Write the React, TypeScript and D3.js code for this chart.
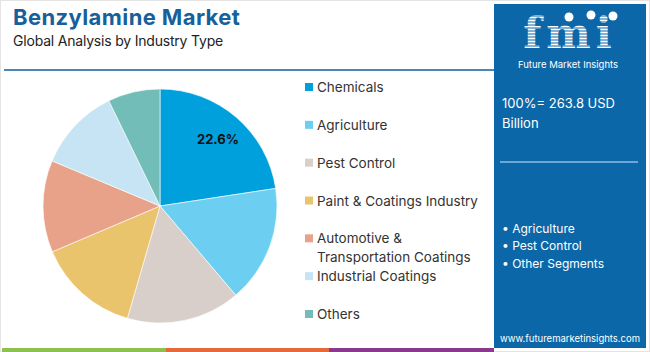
import React from 'react';
import * as d3 from 'd3';

const categories = [
  'Chemicals',
  'Agriculture',
  'Pest Control',
  'Paint & Coatings Industry',
  'Automotive & Transportation Coatings',
  'Industrial Coatings',
  'Others',
];
const shares = [22.6, 16.2, 15.7, 14.1, 12.7, 11.5, 7.2];
const colors = ['#00a0dc', '#6ccff2', '#d8ceca', '#e9c46c', '#e9a28a', '#c6e4f4', '#72bdb8'];
const legendLines = [
  ['Chemicals'],
  ['Agriculture'],
  ['Pest Control'],
  ['Paint & Coatings Industry'],
  ['Automotive &', 'Transportation Coatings'],
  ['Industrial Coatings'],
  ['Others'],
];
const highlights = ['Agriculture', 'Pest Control', 'Other Segments'];
const totalLabel = ['100%= 263.8 USD', 'Billion'];

const font = 'Inter, "Open Sans", sans-serif';

const App = () => {
  const cx = 160;
  const cy = 206;
  const r = 117;

  const pie = d3
    .pie<number>()
    .sort(null)
    .value((d) => d);
  const arcs = pie(shares);
  const arc = d3.arc<d3.PieArcDatum<number>>().innerRadius(0).outerRadius(r);
  const labelArc = d3.arc<d3.PieArcDatum<number>>().innerRadius(r * 0.76).outerRadius(r * 0.76);

  // legend rows
  const rowY = d3.scaleLinear().domain([0, 6]).range([87, 314]);

  const stripeYs = d3.range(16, 52, 3);

  return (
    <svg
      width={650}
      height={352}
      style={{ position: 'fixed', left: 0, top: 0 }}
      fontFamily={font}
    >
      <rect x={0} y={0} width={650} height={352} fill="#fff" />
      <rect x={0.5} y={0.5} width={649} height={351} fill="none" stroke="#e4e4e4" />

      {/* title */}
      <text x={13} y={25} fontSize={22} fontWeight={700} fill="#17609a" letterSpacing={0.4}>
        Benzylamine Market
      </text>
      <text x={13} y={46} fontSize={14} fill="#222" letterSpacing={-0.2}>
        Global Analysis by Industry Type
      </text>
      <line x1={4} x2={494} y1={70} y2={70} stroke="#4a86b8" strokeWidth={2} />

      {/* pie */}
      <g transform={`translate(${cx},${cy})`}>
        {arcs.map((a, i) => (
          <path key={categories[i]} d={arc(a) || ''} fill={colors[i]} stroke="#fff" strokeWidth={0.6} />
        ))}
        <text
          x={labelArc.centroid(arcs[0])[0]}
          y={labelArc.centroid(arcs[0])[1]}
          textAnchor="middle"
          dominantBaseline="central"
          fontSize={13}
          fontWeight={700}
          fill="#111"
        >
          {shares[0]}%
        </text>
      </g>

      {/* legend */}
      {legendLines.map((lines, i) => (
        <g key={categories[i]}>
          <rect x={305} y={rowY(i) - 4} width={8} height={8} fill={colors[i]} />
          {lines.map((t, j) => (
            <text key={t} x={317} y={rowY(i) + j * 19} dominantBaseline="central" fontSize={13.5} fill="#333">
              {t}
            </text>
          ))}
        </g>
      ))}

      {/* right panel */}
      <rect x={494} y={4} width={152} height={344} fill="#0c67a8" />
      <g>
        <text x={570} y={48} textAnchor="middle" fontSize={42} fontWeight={700} fill="#fff" letterSpacing={5} fontFamily='"DejaVu Serif", serif'>
          fmi
        </text>
        {stripeYs.map((y) => (
          <line key={y} x1={510} x2={630} y1={y} y2={y} stroke="#0c67a8" strokeWidth={1} />
        ))}
        <circle cx={569} cy={17} r={4.5} fill="#fff" />
        <circle cx={591} cy={15} r={4.5} fill="#fff" />
        <circle cx={613} cy={16} r={4.5} fill="#fff" />
        <text x={568} y={68} textAnchor="middle" fontSize={9.5} fill="#fff">
          Future Market Insights
        </text>
      </g>
      {totalLabel.map((t, i) => (
        <text key={t} x={502} y={103 + i * 20} dominantBaseline="central" fontSize={13} fill="#fff">
          {t}
        </text>
      ))}
      <line x1={500} x2={638} y1={162} y2={162} stroke="#8dbde6" strokeWidth={1.5} />
      {highlights.map((t, i) => (
        <text key={t} x={502} y={228 + i * 17.5} dominantBaseline="central" fontSize={12} fill="#fff">
          {'\u2022 ' + t}
        </text>
      ))}
      <text x={570} y={338} textAnchor="middle" dominantBaseline="central" fontSize={9.5} fill="#fff">
        www.futuremarketinsights.com
      </text>

      {/* bottom strip */}
      <rect x={2} y={348} width={164} height={4} fill="#8cc04f" />
      <rect x={166} y={348} width={163} height={4} fill="#e5693a" />
      <rect x={329} y={348} width={165} height={4} fill="#8a3a8e" />
    </svg>
  );
};

export default App;
